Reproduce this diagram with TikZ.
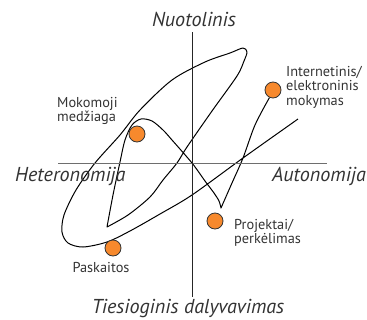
\documentclass[tikz,border=0pt]{standalone}
\usepackage{fontspec}
\setmainfont{PT Sans}
\usepackage{xcolor}
\usepackage{tikz}
\usetikzlibrary{positioning}
\definecolor{dotorange}{HTML}{F7892D}
\definecolor{inkgray}{HTML}{333333}
\definecolor{axisgray}{HTML}{6E6E6E}
\pgfdeclarelayer{bg}
\pgfsetlayers{bg,main}

\begin{document}
\begin{tikzpicture}[
    x=1bp, y=-1bp,
    dot/.style={
      circle, draw=inkgray, line width=0.8bp,
      fill=dotorange, minimum size=16bp, inner sep=0pt
    },
    tag/.style={
      font=\fontsize{14.4}{14.6}\selectfont,
      text=inkgray, align=left, inner sep=0pt
    },
    pole/.style={font=\fontsize{20.2}{22}\selectfont\itshape, text=inkgray, inner sep=0pt},
    axis/.style={line width=1bp, draw=axisgray},
    scribble/.style={line width=1bp, draw=black, line join=round}
  ]
    \useasboundingbox (0,0) rectangle (367,320);

    % ── Axis ends ─────────────────────────────────────────────────────────
    \coordinate (ax_top)   at (192,32);
    \coordinate (ax_bot)   at (192,297);
    \coordinate (ax_left)  at (58,163);
    \coordinate (ax_right) at (327,163);

    % ── Pole labels ───────────────────────────────────────────────────────
    \node[pole] (p_nuot)   at (194,19)  {Nuotolinis};
    \node[pole] (p_tiesio) at (188,309) {Tiesioginis dalyvavimas};
    \node[pole, anchor=west] (p_hetero) at (15,176) {Heteronomija};
    \node[pole, anchor=east] (p_auto)   at (366,176) {Autonomija};

    % ── Axes ──────────────────────────────────────────────────────────────
    \draw[axis] (ax_left) -- (ax_right);
    \draw[axis, draw=black!85] (ax_top) -- (ax_bot);

    % ── Dots ──────────────────────────────────────────────────────────────
    \node[dot] (mok)  at (137,134) {};
    \node[dot] (inet) at (273,90)  {};
    \node[dot] (pask) at (113,248) {};
    \node[dot] (proj) at (215,221) {};

    % ── Dot labels ────────────────────────────────────────────────────────
    \node[tag, anchor=north west] (t_mok)  at (57,97)  {Mokomoji\\medžiaga};
    \node[tag, anchor=north west] (t_inet) at (286,66) {Internetinis/\\elektroninis\\mokymas};
    \node[tag, anchor=north west] (t_proj) at (234,219) {Projektai/\\perkėlimas};
    \node[tag] (t_pask) at (101,268) {Paskaitos};

    % ── Scribble, behind the dots ─────────────────────────────────────────
    \coordinate (cusp) at (221,208);
    \coordinate (vtip) at (107,227);
    \begin{pgfonlayer}{bg}
      \draw[scribble]
        plot[smooth] coordinates {(inet.245) (255,125) (243,158) (232,183) (cusp)}
        -- plot[smooth] coordinates {(cusp) (219,201) (214,193) (205,181) (192,163)
             (172,140) (163,130) (152,121) (141,119) (132,125) (125,140)
             (120,162) (113,195) (vtip)}
        -- plot[smooth] coordinates {(vtip) (128,215) (150,197) (163,180) (177,163)
             (187,147) (212,111) (237,76) (244,61) (247,52) (243,48) (230,53)
             (205,62) (172,80) (140,110) (120,135) (95,163) (76,190) (64,215)
             (62,232) (68,243) (83,247) (107,242) (130,231) (160,214) (192,195)
             (243,158) (298,119)};
    \end{pgfonlayer}

  \end{tikzpicture}
\end{document}
